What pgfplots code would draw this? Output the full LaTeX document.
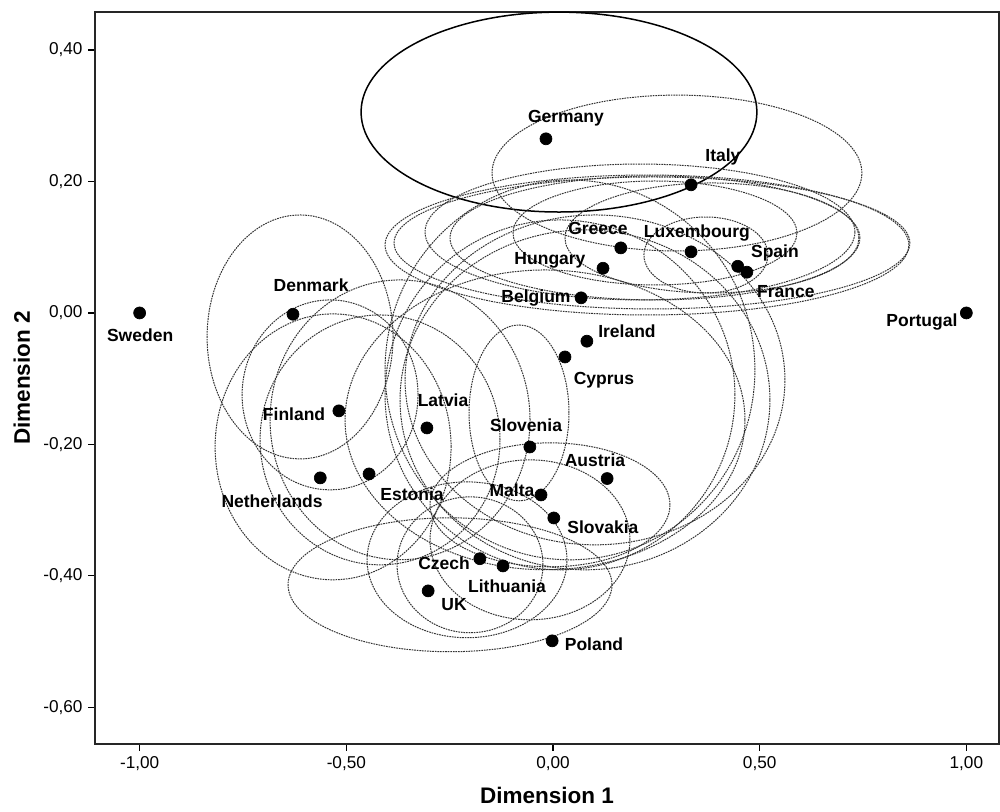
\documentclass[border=0pt]{standalone}
\usepackage{pgfplots}
\pgfplotsset{compat=1.18}
\usepackage{fontspec}
\setmainfont{Liberation Sans}
\tikzset{
  elli/.style={black!80, line width=0.6pt, dash pattern=on 1pt off 0.55pt},
  lab/.style={font=\bfseries\fontsize{10.5}{12}\selectfont, inner sep=0pt},
}
\begin{document}
\begin{tikzpicture}
\useasboundingbox (-57pt,-40.8pt) rectangle (543pt,446.4pt);
\begin{axis}[
  at={(0pt,0pt)}, anchor=south west,
  scale only axis, width=542.4pt, height=439.2pt,
  xmin=-1.108, xmax=1.079, ymin=-0.656, ymax=0.458,
  axis line style={black!85, line width=1pt},
  tick pos=left, tick align=outside,
  major tick length=4pt,
  tick style={black, line width=0.8pt},
  xtick={-1,-0.5,0,0.5,1},
  ytick={-0.6,-0.4,-0.2,0,0.2,0.4},
  /pgf/number format/.cd, fixed, fixed zerofill, precision=2, use comma, assume math mode=true,
  /pgfplots/.cd,
  ticklabel style={font=\fontsize{10.3}{12}\selectfont},
  xlabel={Dimension 1}, ylabel={Dimension 2},
  label style={font=\bfseries\fontsize{13.5}{15}\selectfont},
  xlabel style={yshift=-3pt},
  ylabel style={yshift=1pt},
]
% solid ellipse
\draw[black, line width=0.9pt] (axis cs:0.0145,0.3057) ellipse [x radius=0.4788, y radius=0.1521];
% dotted ellipses (top group)
\draw[elli] (axis cs:0.2999,0.2129) ellipse [x radius=0.4474, y radius=0.1186];
\draw[elli] (axis cs:0.2273,0.1034) ellipse [x radius=0.6336, y radius=0.1065];
\draw[elli] (axis cs:0.2394,0.1065) ellipse [x radius=0.6239, y radius=0.1004];
\draw[elli] (axis cs:0.2104,0.1232) ellipse [x radius=0.5200, y radius=0.1034];
\draw[elli] (axis cs:0.2467,0.1217) ellipse [x radius=0.3434, y radius=0.0791];
\draw[elli] (axis cs:0.3845,0.1141) ellipse [x radius=0.3555, y radius=0.0837];
\draw[elli] (axis cs:0.3700,0.0882) ellipse [x radius=0.1500, y radius=0.0578];
\draw[elli] (axis cs:0.2467,0.1141) ellipse [x radius=0.4958, y radius=0.0943];
% middle group
\draw[elli] (axis cs:0.0411,-0.0867) ellipse [x radius=0.4474, y radius=0.2890];
\draw[elli] (axis cs:0.0774,-0.1323) ellipse [x radius=0.4474, y radius=0.2586];
\draw[elli] (axis cs:0.1016,-0.1019) ellipse [x radius=0.4595, y radius=0.2510];
\draw[elli] (axis cs:0.0169,-0.1247) ellipse [x radius=0.4232, y radius=0.2662];
\draw[elli] (axis cs:-0.0193,-0.1627) ellipse [x radius=0.4837, y radius=0.2281];
\draw[elli] (axis cs:-0.0822,-0.1521) ellipse [x radius=0.1209, y radius=0.1338];
\draw[elli] (axis cs:-0.0073,-0.2920) ellipse [x radius=0.2902, y radius=0.0943];
% left group
\draw[elli] (axis cs:-0.6119,-0.0365) ellipse [x radius=0.2249, y radius=0.1856];
\draw[elli] (axis cs:-0.5393,-0.1247) ellipse [x radius=0.2128, y radius=0.1445];
\draw[elli] (axis cs:-0.5320,-0.2038) ellipse [x radius=0.2854, y radius=0.2023];
\draw[elli] (axis cs:-0.4184,-0.1932) ellipse [x radius=0.2902, y radius=0.1901];
\draw[elli] (axis cs:-0.3700,-0.1627) ellipse [x radius=0.3144, y radius=0.2129];
% lower group
\draw[elli] (axis cs:-0.2491,-0.4137) ellipse [x radius=0.3918, y radius=0.1019];
\draw[elli] (axis cs:-0.2080,-0.3757) ellipse [x radius=0.2418, y radius=0.1186];
\draw[elli] (axis cs:-0.2007,-0.3833) ellipse [x radius=0.1765, y radius=0.1034];
\draw[elli] (axis cs:-0.0556,-0.3453) ellipse [x radius=0.2418, y radius=0.1217];

\addplot[only marks, mark=*, mark size=3.6pt, black] coordinates {
(-0.017,0.265) (0.334,0.195) (0.164,0.099) (0.334,0.093) (0.447,0.071)
(0.469,0.062) (0.121,0.068) (0.068,0.023) (0.082,-0.043) (0.029,-0.067)
(1.0,0) (-1.0,0) (-0.629,-0.002) (-0.518,-0.149) (-0.305,-0.175)
(-0.056,-0.204) (0.131,-0.252) (-0.563,-0.251) (-0.445,-0.245) (-0.029,-0.277)
(0.002,-0.312) (-0.177,-0.374) (-0.121,-0.385) (-0.302,-0.423) (-0.002,-0.499)
};

\node[lab] at (axis cs:0.0314,0.2966) {Germany};
\node[lab] at (axis cs:0.4111,0.2373) {Italy};
\node[lab] at (axis cs:0.1088,0.1293) {Greece};
\node[lab] at (axis cs:0.3482,0.1217) {Luxembourg};
\node[lab] at (axis cs:0.5369,0.0913) {Spain};
\node[lab] at (axis cs:0.5635,0.0319) {France};
\node[lab] at (axis cs:-0.0073,0.0806) {Hungary};
\node[lab] at (axis cs:-0.0411,0.0228) {Belgium};
\node[lab] at (axis cs:0.1790,-0.0274) {Ireland};
\node[lab] at (axis cs:0.1233,-0.1019) {Cyprus};
\node[lab] at (axis cs:0.8924,-0.0137) {Portugal};
\node[lab] at (axis cs:-0.9988,-0.0335) {Sweden};
\node[lab] at (axis cs:-0.5852,0.0426) {Denmark};
\node[lab] at (axis cs:-0.6264,-0.1536) {Finland};
\node[lab] at (axis cs:-0.2660,-0.1323) {Latvia};
\node[lab] at (axis cs:-0.0653,-0.1703) {Slovenia};
\node[lab] at (axis cs:0.1016,-0.2236) {Austria};
\node[lab] at (axis cs:-0.6796,-0.2859) {Netherlands};
\node[lab] at (axis cs:-0.3410,-0.2753) {Estonia};
\node[lab] at (axis cs:-0.0992,-0.2692) {Malta};
\node[lab] at (axis cs:0.1209,-0.3255) {Slovakia};
\node[lab] at (axis cs:-0.2636,-0.3802) {Czech};
\node[lab] at (axis cs:-0.1112,-0.4152) {Lithuania};
\node[lab] at (axis cs:-0.2394,-0.4441) {UK};
\node[lab] at (axis cs:0.0992,-0.5049) {Poland};
\end{axis}
\end{tikzpicture}
\end{document}
